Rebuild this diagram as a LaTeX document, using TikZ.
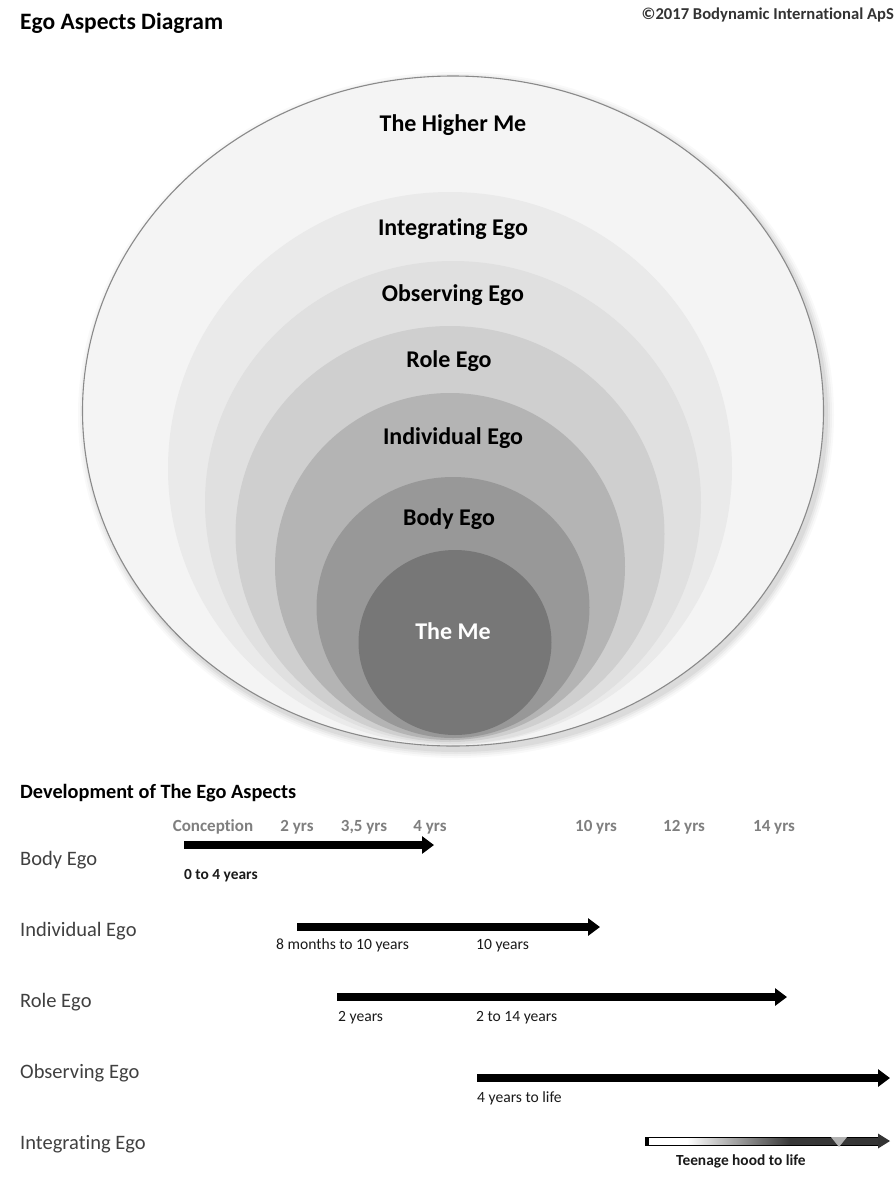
\documentclass[tikz,border=0pt]{standalone}
\usepackage{fontspec}
\setmainfont{Carlito}[Ligatures=NoCommon]
\usetikzlibrary{arrows.meta,shapes.geometric,calc}
\definecolor{ring0}{HTML}{F4F4F4}
\definecolor{ring1}{HTML}{EAEAEA}
\definecolor{ring2}{HTML}{E0E0E0}
\definecolor{ring3}{HTML}{CFCFCF}
\definecolor{ring4}{HTML}{B4B4B4}
\definecolor{ring5}{HTML}{989898}
\definecolor{ring6}{HTML}{777777}
\definecolor{rim}{HTML}{8A8A8A}
\definecolor{yr}{HTML}{7F7F7F}
\definecolor{rowtxt}{HTML}{404040}
\definecolor{smalltxt}{HTML}{1A1A1A}
\pgfdeclarehorizontalshading{teen}{100bp}{color(0bp)=(white); color(34bp)=(white); color(56bp)=(black!78); color(100bp)=(black!80)}
\begin{document}
\begin{tikzpicture}[x=1pt,y=-1pt,
  ring/.style={ellipse, inner sep=0pt, draw=none},
  lab/.style={font=\fontsize{24}{28}\selectfont\bfseries, text=black, inner sep=0pt, anchor=base},
  rowlab/.style={font=\fontsize{20.5}{24}\selectfont, text=rowtxt, anchor=base west, inner sep=0pt},
  yrlab/.style={font=\fontsize{17}{20}\selectfont\bfseries, text=yr, inner sep=0pt, anchor=base},
  small/.style={font=\fontsize{15.6}{18}\selectfont, text=smalltxt, anchor=base west, inner sep=0pt},
  smallb/.style={font=\fontsize{15.4}{18}\selectfont\bfseries, text=smalltxt, anchor=base west, inner sep=0pt},
  bar/.style={line width=8.5pt, draw=black, -{Triangle[length=12pt,width=17pt]}}]
\useasboundingbox (0,0) rectangle (896,1184);
\fill[white] (0,0) rectangle (896,1184);

% titles
\node[font=\fontsize{23.5}{27}\selectfont\bfseries, anchor=base west, inner sep=0pt] (title) at (20,29.5) {Ego Aspects Diagram};
\node[font=\fontsize{16.6}{19}\selectfont\bfseries, text=black!80, anchor=base east, inner sep=0pt] (copy) at (894,19.5) {©2017 Bodynamic International ApS};

% shadow of outer ellipse
\foreach \d/\o in {8/0.025,6/0.03,4/0.04,2/0.05}{
  \fill[black, opacity=\o] (456,415) ellipse [x radius={370pt+\d pt}, y radius={335pt+\d pt}];
}

% rings
\node[ring, fill=ring0, draw=rim, line width=1.1pt, minimum width=741pt, minimum height=670pt] (higher) at (453,411) {};
\node[ring, fill=ring1, minimum width=564pt, minimum height=553pt] (integ) at (450,468.5) {};
\node[ring, fill=ring2, minimum width=496pt, minimum height=483pt] (obs) at (453,502.5) {};
\node[ring, fill=ring3, minimum width=429pt, minimum height=416pt] (role) at (450,534) {};
\node[ring, fill=ring4, minimum width=350pt, minimum height=347pt] (indiv) at (450,566.5) {};
\node[ring, fill=ring5, minimum width=273pt, minimum height=261pt] (body) at (453,607.5) {};
\node[ring, fill=ring6, minimum width=193pt, minimum height=185pt] (me) at (455,642.5) {};

% ring labels
\node[lab] (lhigher) at (453,131.5) {The Higher Me};
\node[lab] (linteg) at (453,235.5) {Integrating Ego};
\node[lab] (lobs) at (453,301.5) {Observing Ego};
\node[lab] (lrole) at (449,367.5) {Role Ego};
\node[lab] (lindiv) at (453,444.5) {Individual Ego};
\node[lab] (lbody) at (449,525.5) {Body Ego};
\node[lab, text=white] (lme) at (453,639.5) {The Me};

% development section
\node[font=\fontsize{20.3}{24}\selectfont\bfseries, anchor=base west, inner sep=0pt] (dev) at (20,798.5) {Development of The Ego Aspects};

\node[yrlab] (y0) at (213,831.5) {Conception};
\node[yrlab] (y2) at (297,831.5) {2 yrs};
\node[yrlab] (y35) at (364,831.5) {3,5 yrs};
\node[yrlab] (y4) at (430,831.5) {4 yrs};
\node[yrlab] (y10) at (596,831.5) {10 yrs};
\node[yrlab] (y12) at (684,831.5) {12 yrs};
\node[yrlab] (y14) at (774,831.5) {14 yrs};

\node[rowlab] (rbody) at (20,865.6) {Body Ego};
\node[rowlab] (rindiv) at (20,936.6) {Individual Ego};
\node[rowlab] (rrole) at (20,1007.6) {Role Ego};
\node[rowlab] (robs) at (20,1078.6) {Observing Ego};
\node[rowlab] (rinteg) at (20,1149.6) {Integrating Ego};

% arrows
\coordinate (a1s) at (184,845); \coordinate (a1e) at (434,845);
\coordinate (a2s) at (297,927); \coordinate (a2e) at (600,927);
\coordinate (a3s) at (337,997); \coordinate (a3e) at (787,997);
\coordinate (a4s) at (477,1078); \coordinate (a4e) at (890,1078);
\coordinate (a5s) at (645,1141); \coordinate (a5e) at (890,1141);
\draw[bar] (a1s) -- (a1e);
\draw[bar] (a2s) -- (a2e);
\draw[bar] (a3s) -- (a3e);
\draw[bar] (a4s) -- (a4e);

% gradient arrow
\shade[shading=teen, draw=black, line width=0.7pt] ($(a5s)+(0,-4)$) rectangle ($(a5e)+(-11,4)$);
\fill[black!80] ($(a5e)+(-12,-7.5)$) -- (a5e) -- ($(a5e)+(-12,7.5)$) -- cycle;
\fill[black] ($(a5s)+(0,-4.5)$) rectangle ($(a5s)+(3.5,4.5)$);
\fill[black!30] ($(a5e)+(-59,-4)$) -- ($(a5e)+(-43,-4)$) -- ($(a5e)+(-51,6)$) -- cycle;

% arrow labels
\node[smallb] (t1) at (184,879) {0 to 4 years};
\node[small] (t2) at (276,949) {8 months to 10 years};
\node[small] (t3) at (476,949) {10 years};
\node[small] (t4) at (338,1021) {2 years};
\node[small] (t5) at (476,1021) {2 to 14 years};
\node[small] (t6) at (477,1102) {4 years to life};
\node[smallb] (t7) at (676,1165) {Teenage hood to life};
\end{tikzpicture}
\end{document}
